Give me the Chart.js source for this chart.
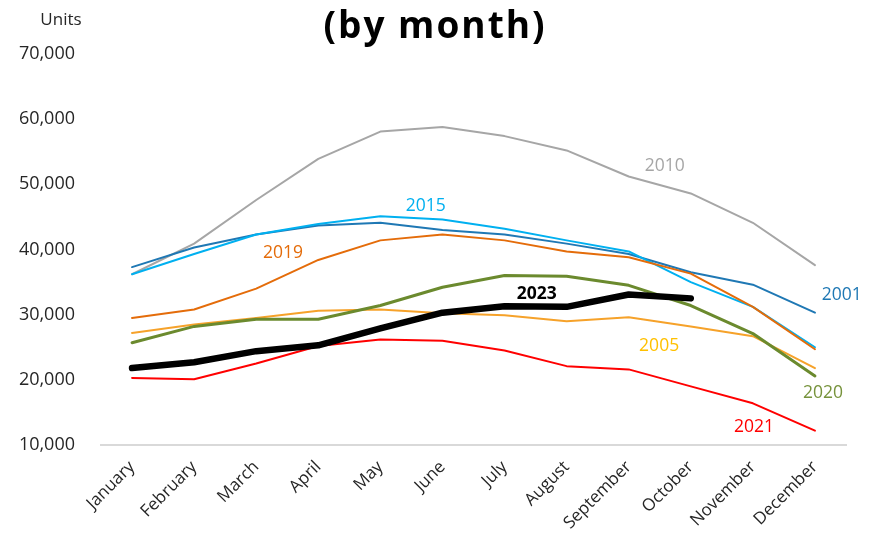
<!DOCTYPE html>
<html>
<head>
<meta charset="utf-8">
<script src="https://cdn.jsdelivr.net/npm/chart.js@4"></script>
<style>
  html, body { margin: 0; padding: 0; background: #fff; }
  #wrap { width: 870px; height: 535px; }
</style>
</head>
<body>
<div id="wrap"><canvas id="chart" width="870" height="535"></canvas></div>
<script>
// Categories and ticks
const months = ['January', 'February', 'March', 'April', 'May', 'June',
  'July', 'August', 'September', 'October', 'November', 'December'];
const yTicks = [10000, 20000, 30000, 40000, 50000, 60000, 70000];

// Series values (units per month)
const y2001 = [37300, 40300, 42300, 43700, 44100, 43000, 42300, 40900, 39300, 36500, 34600, 30300];
const y2005 = [27200, 28500, 29500, 30600, 30800, 30200, 29900, 29000, 29600, 28200, 26700, 21800];
const y2010 = [36200, 40900, 47600, 53900, 58100, 58800, 57400, 55200, 51200, 48600, 44100, 37600];
const y2015 = [36200, 39300, 42300, 43900, 45100, 44600, 43200, 41400, 39700, 35000, 31200, 25000];
const y2019 = [29500, 30800, 34000, 38400, 41400, 42300, 41400, 39700, 38800, 36300, 31200, 24700];
const y2020 = [25700, 28200, 29300, 29300, 31400, 34200, 36000, 35900, 34500, 31400, 27100, 20600];
const y2021 = [20300, 20100, 22500, 25200, 26200, 26000, 24500, 22100, 21600, 19000, 16400, 12200];
const y2023 = [21800, 22700, 24400, 25300, 27900, 30300, 31300, 31200, 33100, 32500, null, null];

// Series names
const seriesNames = ['2023', '2020', '2021', '2005', '2019', '2015', '2001', '2010'];

const ctx = document.getElementById('chart').getContext('2d');

// Line style helper
function line(label, data, color, width) {
    return {
        label: label,
        data: data,
        borderColor: color,
        backgroundColor: color,
        borderWidth: width,
        pointRadius: 0,
        tension: 0,
        fill: false,
        spanGaps: false,
        borderCapStyle: 'round',
        borderJoinStyle: 'round'
    };
}

// Direct labels next to the lines, placed in data space (category index, value)
const lineLabels = [
    { text: '2010', color: '#a6a6a6', at: [8.58, 52860], bold: false },
    { text: '2015', color: '#00b0f0', at: [4.73, 46740], bold: false },
    { text: '2019', color: '#e46c0a', at: [2.43, 39390], bold: false },
    { text: '2023', color: '#000000', at: [6.52, 33110], bold: true },
    { text: '2005', color: '#ffc000', at: [8.49, 25150], bold: false },
    { text: '2001', color: '#1f78b4', at: [11.43, 32960], bold: false },
    { text: '2020', color: '#77933c', at: [11.13, 18000], bold: false },
    { text: '2021', color: '#ff0000', at: [10.02, 12760], bold: false }
];

const decorations = {
    id: 'decorations',
    afterDatasetsDraw(chart) {
        const c = chart.ctx;
        const xs = chart.scales.x;
        const ys = chart.scales.y;
        c.save();
        c.textAlign = 'center';
        c.textBaseline = 'middle';

        lineLabels.forEach(l => {
            c.font = (l.bold ? 'bold ' : '') + '17.5px "Open Sans"';
            c.fillStyle = l.color;
            c.fillText(l.text, xs.getPixelForValue(l.at[0]), ys.getPixelForValue(l.at[1]));
        });

        // Title
        c.font = 'bold 37px "Open Sans"';
        c.letterSpacing = '2px';
        c.fillStyle = '#000';
        c.fillText('(by month)', 435, 27);
        c.letterSpacing = '0px';

        // Axis unit
        c.font = '17px "Open Sans"';
        c.fillStyle = '#262626';
        c.fillText('Units', 61, 20);
        c.restore();
    }
};

new Chart(ctx, {
    type: 'line',
    data: {
        labels: months,
        datasets: [
            line(seriesNames[0], y2023, '#000000', 6.5),
            line(seriesNames[1], y2020, '#6b8a2e', 3),
            line(seriesNames[2], y2021, '#ff0000', 2),
            line(seriesNames[3], y2005, '#f6a22a', 2),
            line(seriesNames[4], y2019, '#e46c0a', 2),
            line(seriesNames[5], y2015, '#00b0f0', 2),
            line(seriesNames[6], y2001, '#1f78b4', 2),
            line(seriesNames[7], y2010, '#a6a6a6', 2)
        ]
    },
    options: {
        responsive: false,
        animation: false,
        layout: { padding: { top: 54, right: 24, left: 0, bottom: 0 } },
        plugins: {
            legend: { display: false },
            title: { display: false },
            tooltip: { enabled: false }
        },
        scales: {
            x: {
                offset: true,
                grid: { display: false },
                border: { display: true, color: '#d9d9d9', width: 2 },
                ticks: {
                    minRotation: 45,
                    maxRotation: 45,
                    padding: 4,
                    color: '#262626',
                    font: { family: 'Open Sans', size: 17 }
                },
                afterFit(scale) { scale.height = 90; }
            },
            y: {
                min: 10000,
                max: 70000,
                grid: { display: false },
                border: { display: false },
                afterBuildTicks(scale) {
                    scale.ticks = yTicks.map(v => ({ value: v }));
                },
                ticks: {
                    padding: 18,
                    color: '#262626',
                    font: { family: 'Open Sans', size: 18 },
                    callback: v => v.toLocaleString('en-US')
                },
                afterFit(scale) { scale.width = 101; }
            }
        }
    },
    plugins: [decorations]
});
</script>
</body>
</html>
